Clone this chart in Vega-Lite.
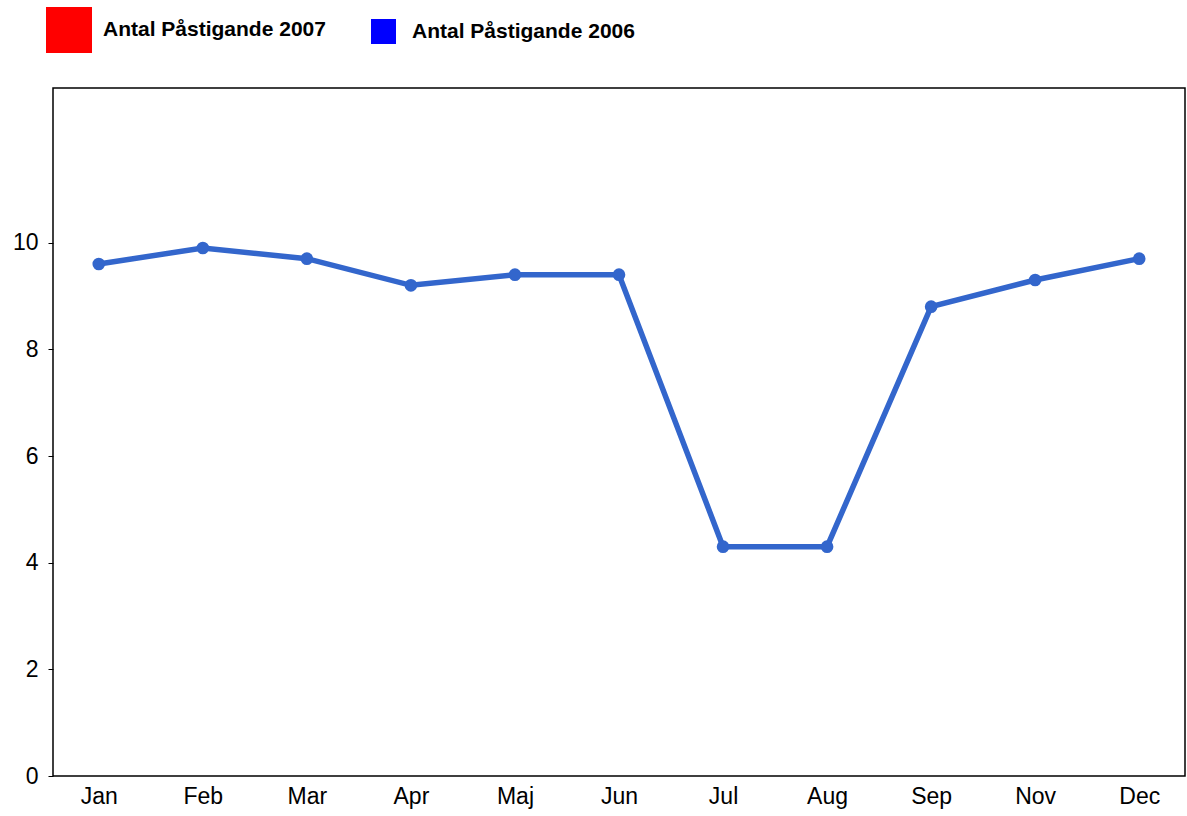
{
  "$schema": "https://vega.github.io/schema/vega-lite/v6.json",
  "autosize": {"type": "none"},
  "width": 1132,
  "height": 688,
  "padding": {"left": 53, "top": 88, "right": 2, "bottom": 40},
  "background": "white",
  "config": {
    "font": "Liberation Sans",
    "view": {"stroke": "black", "strokeWidth": 1.5},
    "axis": {"labelFont": "Liberation Sans", "labelFontSize": 23, "labelColor": "black", "grid": false, "domain": false, "title": null},
    "legend": {"labelFont": "Liberation Sans", "labelFontSize": 21, "labelFontWeight": "bold", "labelColor": "black", "labelLimit": 400, "padding": 0, "symbolType": "square", "symbolOpacity": 1, "symbolStrokeWidth": 0, "orient": "none", "title": null}
  },
  "datasets": {
    "series": [
      {"month": "Jan", "value": 9.6},
      {"month": "Feb", "value": 9.9},
      {"month": "Mar", "value": 9.7},
      {"month": "Apr", "value": 9.2},
      {"month": "Maj", "value": 9.4},
      {"month": "Jun", "value": 9.4},
      {"month": "Jul", "value": 4.3},
      {"month": "Aug", "value": 4.3},
      {"month": "Sep", "value": 8.8},
      {"month": "Nov", "value": 9.3},
      {"month": "Dec", "value": 9.7}
    ],
    "legend2007": [{"serie": "Antal Påstigande 2007"}],
    "legend2006": [{"serie": "Antal Påstigande 2006"}]
  },
  "layer": [
    {
      "data": {"name": "series"},
      "mark": {"type": "line", "color": "#3366CC", "strokeWidth": 5.5, "point": {"filled": true, "size": 160, "color": "#3366CC"}},
      "encoding": {
        "x": {"field": "month", "type": "ordinal", "sort": null, "scale": {"type": "point", "padding": 0.44},
              "axis": {"labelAngle": 0, "ticks": false, "labelPadding": 9}},
        "y": {"field": "value", "type": "quantitative", "scale": {"domain": [0, 12.9], "nice": false},
              "axis": {"values": [0, 2, 4, 6, 8, 10], "ticks": true, "tickSize": 5, "tickColor": "black", "labelPadding": 10}}
      }
    },
    {
      "data": {"name": "legend2007"},
      "mark": {"type": "point", "opacity": 0, "filled": true},
      "encoding": {
        "color": {"field": "serie", "type": "nominal",
          "scale": {"domain": ["Antal Påstigande 2007"], "range": ["#FF0000"]},
          "legend": {"legendX": -7, "legendY": -81, "symbolSize": 2116, "labelOffset": 11}
        }
      }
    },
    {
      "data": {"name": "legend2006"},
      "mark": {"type": "point", "opacity": 0, "filled": true},
      "encoding": {
        "fill": {"field": "serie", "type": "nominal",
          "scale": {"domain": ["Antal Påstigande 2006"], "range": ["#0000FF"]},
          "legend": {"legendX": 318, "legendY": -69, "symbolSize": 625, "labelOffset": 16}
        }
      }
    }
  ]
}
